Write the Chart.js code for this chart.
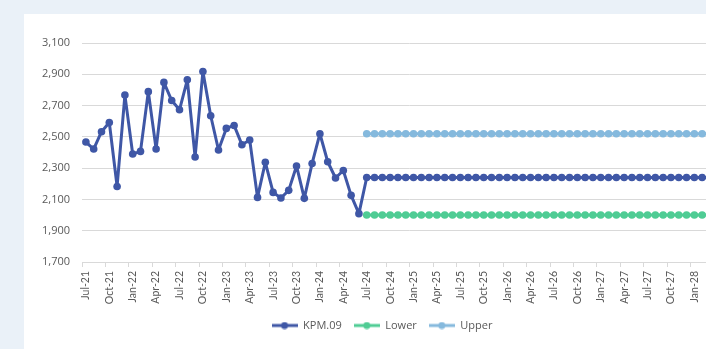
<!DOCTYPE html>
<html>
<head>
<meta charset="utf-8">
<script src="https://cdn.jsdelivr.net/npm/chart.js@4"></script>
<style>
    html, body { margin: 0; padding: 0; width: 706px; height: 349px; overflow: hidden; background: #eaf1f8; }
    #panel { position: absolute; left: 24px; top: 14px; width: 726px; height: 335px; background: #ffffff; }
</style>
</head>
<body>
<div id="panel"><canvas id="kpmChart"></canvas></div>
<script>
// === DATOS ===
const startYear = 2021;
const startMonth = 6;      // Jul
const totalMonths = 84;    // Jul-21 .. Jun-28
const monthNames = ["Jan", "Feb", "Mar", "Apr", "May", "Jun", "Jul", "Aug", "Sep", "Oct", "Nov", "Dec"];

// KPM.09 actuals, Jul-21 .. Jun-24
const kpmActual = [
    2467, 2422, 2533, 2592, 2183, 2767, 2390, 2407, 2789, 2422, 2848, 2732,
    2673, 2865, 2371, 2918, 2635, 2416, 2554, 2573, 2450, 2480, 2113, 2337,
    2145, 2109, 2158, 2314, 2107, 2330, 2520, 2341, 2237, 2285, 2126, 2009
];
// flat projection from Jul-24
const kpmForecast = 2240;
const lowerLimit = 2000;
const upperLimit = 2520;

const labels = [];
for (let i = 0; i < totalMonths; i++) {
    const m = (startMonth + i) % 12;
    const y = startYear + Math.floor((startMonth + i) / 12);
    labels.push(monthNames[m] + "-" + String(y).slice(2));
}

const forecastCount = totalMonths - kpmActual.length;
const kpmSeries = kpmActual.concat(new Array(forecastCount).fill(kpmForecast));
const lowerSeries = new Array(kpmActual.length).fill(null).concat(new Array(forecastCount).fill(lowerLimit));
const upperSeries = new Array(kpmActual.length).fill(null).concat(new Array(forecastCount).fill(upperLimit));

const colKpm = "#3f57a6";
const colLower = "#4fcc94";
const colUpper = "#85b9dd";
const txtColor = "#595959";
const gridColor = "#d9d9d9";

// legend marker: line with a dot in the middle
function legendMarker(color) {
    const c = document.createElement("canvas");
    c.width = 26;
    c.height = 8;
    const g = c.getContext("2d");
    g.strokeStyle = color;
    g.lineWidth = 3;
    g.beginPath();
    g.moveTo(0, 4);
    g.lineTo(26, 4);
    g.stroke();
    g.fillStyle = color;
    g.beginPath();
    g.arc(13, 4, 3.5, 0, Math.PI * 2);
    g.fill();
    return c;
}

function serie(label, data, color) {
    return {
        label,
        data,
        borderColor: color,
        backgroundColor: color,
        borderWidth: 3,
        borderJoinStyle: "round",
        borderCapStyle: "round",
        pointStyle: "circle",
        pointRadius: 3.8,
        pointBorderWidth: 0,
        pointBackgroundColor: color,
        tension: 0,
        spanGaps: false
    };
}

// === GRAFICO ===
new Chart(document.getElementById("kpmChart").getContext("2d"), {
    type: "line",
    data: {
        labels,
        datasets: [
            serie("KPM.09", kpmSeries, colKpm),
            serie("Lower", lowerSeries, colLower),
            serie("Upper", upperSeries, colUpper)
        ]
    },
    options: {
        responsive: true,
        maintainAspectRatio: false,
        animation: false,
        layout: { padding: { left: 0, top: 29, right: 10, bottom: 8 } },
        scales: {
            x: {
                type: "category",
                offset: true,
                afterFit: s => { s.height = 46; },
                grid: {
                    offset: true,
                    drawOnChartArea: false,
                    drawTicks: true,
                    tickLength: 5,
                    color: ctx => (ctx.index % 3 === 0 ? gridColor : "rgba(0,0,0,0)")
                },
                border: { display: true, color: gridColor, width: 1 },
                ticks: {
                    autoSkip: false,
                    maxRotation: 90,
                    minRotation: 90,
                    padding: 4,
                    color: txtColor,
                    font: { family: "Lato", size: 10.5 },
                    callback: function(value, index) {
                        return index % 3 === 0 ? this.getLabelForValue(value) : "";
                    }
                }
            },
            y: {
                min: 1700,
                max: 3100,
                afterFit: s => { s.width = 58; },
                grid: { color: gridColor, drawTicks: false },
                border: { display: false },
                ticks: {
                    stepSize: 200,
                    padding: 12,
                    color: txtColor,
                    font: { family: "Open Sans", size: 11 },
                    callback: v => v.toLocaleString("en-US")
                }
            }
        },
        plugins: {
            tooltip: { enabled: false },
            legend: {
                position: "bottom",
                labels: {
                    usePointStyle: true,
                    pointStyleWidth: 26,
                    padding: 12,
                    color: txtColor,
                    font: { family: "Open Sans", size: 11 },
                    generateLabels: chart => {
                        return chart.data.datasets.map((ds, i) => ({
                            text: ds.label,
                            pointStyle: legendMarker(ds.borderColor),
                            fillStyle: ds.borderColor,
                            strokeStyle: ds.borderColor,
                            lineWidth: 0,
                            fontColor: txtColor,
                            hidden: false,
                            datasetIndex: i
                        }));
                    }
                }
            }
        }
    }
});
</script>
</body>
</html>
